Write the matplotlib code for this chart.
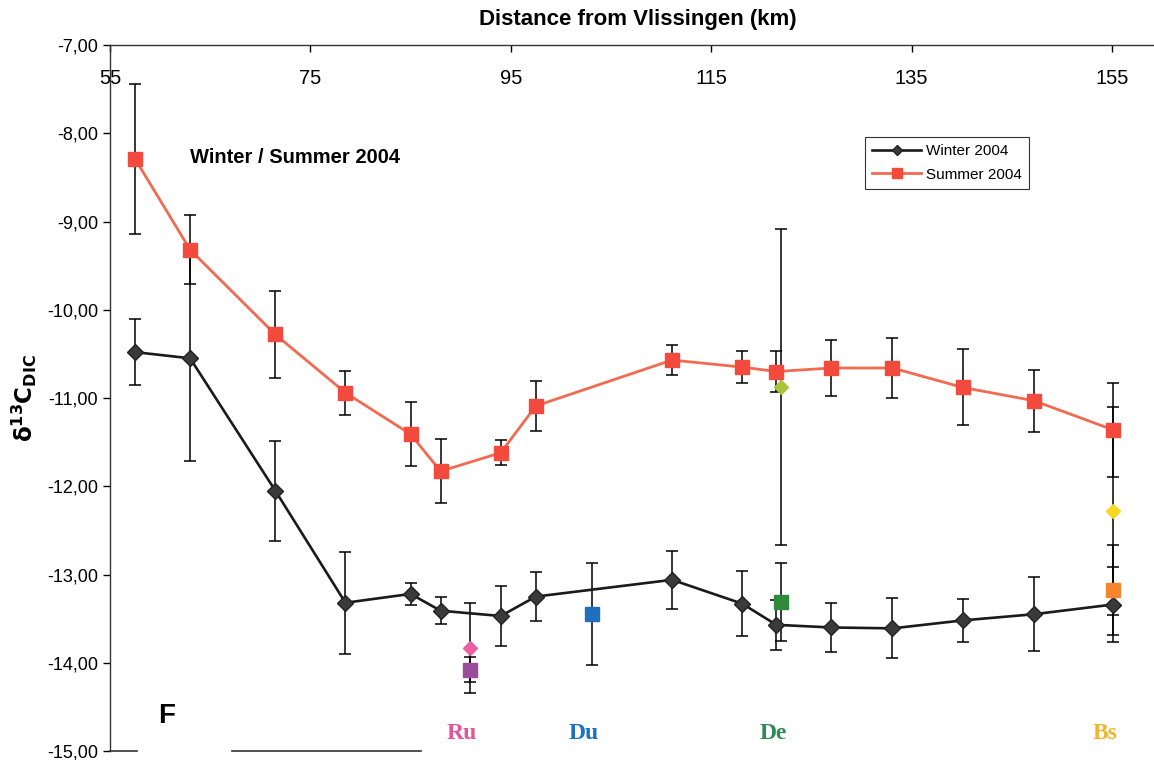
import matplotlib
matplotlib.use("Agg")
import matplotlib.pyplot as plt
from matplotlib.ticker import FuncFormatter

plt.rcParams['font.family'] = ['Liberation Sans', 'DejaVu Sans']

# Distance from Vlissingen (km) of the estuary stations
km = [57.5, 63.0, 71.5, 78.5, 85.0, 88.0, 94.0, 97.5, 111.1, 118.1,
      121.5, 127.0, 133.1, 140.1, 147.2, 155.1]

winter = [-10.48, -10.55, -12.05, -13.32, -13.22, -13.41, -13.47, -13.25,
          -13.06, -13.33, -13.57, -13.60, -13.61, -13.52, -13.45, -13.34]
winter_err = [0.37, 1.16, 0.565, 0.58, 0.12, 0.15, 0.34, 0.28,
              0.33, 0.37, 0.28, 0.28, 0.34, 0.245, 0.42, 0.42]

summer = [-8.29, -9.32, -10.28, -10.94, -11.41, -11.83, -11.62, -11.09,
          -10.57, -10.65, -10.70, -10.66, -10.66, -10.88, -11.03, -11.36]
summer_err = [0.85, 0.39, 0.49, 0.25, 0.36, 0.36, 0.14, 0.28,
              0.17, 0.18, 0.23, 0.32, 0.34, 0.43, 0.35, 0.53]

# Tributaries / discharge points
sites = ['Ru', 'Du', 'De', 'Bs']
site_km = [90.9, 103.1, 122.0, 155.1]
site_colors = ['#e4559c', '#1b72c2', '#2e8a56', '#f2b52a']

diamond_km = [90.9, 122.0, 155.1]
diamond_val = [-13.83, -10.87, -12.28]
diamond_err = [0.51, 1.79, 1.18]
diamond_colors = ['#e8609f', '#a9c43c', '#f7d81e']

square_km = [90.9, 103.1, 122.0, 155.1]
square_val = [-14.08, -13.45, -13.31, -13.18]
square_err = [0.14, 0.58, 0.44, 0.51]
square_colors = ['#9a4d9c', '#1f6fbf', '#2f8a3c', '#f5852e']

fig = plt.figure(figsize=(11.54, 7.6), dpi=100)
ax = fig.add_axes([0.0953, 0.0118, 0.9047, 0.9290])

eb = dict(ecolor='black', elinewidth=1.1, capsize=4.3, capthick=1.1, zorder=2)

ax.errorbar(km, winter, yerr=winter_err, fmt='none', **eb)
ax.errorbar(km, summer, yerr=summer_err, fmt='none', **eb)
for x, y, e in zip(diamond_km, diamond_val, diamond_err):
    ax.errorbar(x, y, yerr=e, fmt='none', **eb)
for x, y, e in zip(square_km, square_val, square_err):
    ax.errorbar(x, y, yerr=e, fmt='none', **eb)

ax.plot(km, winter, color='#1a1a1a', lw=1.9, marker='D', ms=8,
        mfc='#3a3a3a', mec='#222222', label='Winter 2004', zorder=3)
ax.plot(km, summer, color='#f26a50', lw=2.0, marker='s', ms=10.5,
        mfc='#f24a3c', mec='#f24a3c', label='Summer 2004', zorder=3)

for x, y, c in zip(diamond_km, diamond_val, diamond_colors):
    ax.plot(x, y, marker='D', ms=7.5, color=c, zorder=4)
for x, y, c in zip(square_km, square_val, square_colors):
    ax.plot(x, y, marker='s', ms=10, color=c, zorder=4)

for name, x, c in zip(sites, site_km, site_colors):
    ax.text(x - 0.8, -14.8, name, color=c, fontsize=17, fontweight='bold',
            family='Liberation Serif', ha='center', va='center')

ax.set_xlim(55, 159.2)
ax.set_ylim(-15, -7)
ax.set_xticks([55, 75, 95, 115, 135, 155])
ax.set_yticks([-15, -14, -13, -12, -11, -10, -9, -8, -7])
ax.yaxis.set_major_formatter(FuncFormatter(lambda v, p: f"{v:.2f}".replace('.', ',')))

ax.xaxis.tick_top()
ax.tick_params(axis='x', direction='in', length=5, width=1, pad=-31,
               labelsize=14.5)
ax.tick_params(axis='y', direction='out', length=5, width=1, labelsize=13)

ax.spines['right'].set_visible(False)
ax.spines['bottom'].set_visible(False)
for s in ['top', 'left']:
    ax.spines[s].set_linewidth(1.0)
    ax.spines[s].set_color('#333333')
ax.axhline(-15, xmin=0, xmax=0.026, color='#333333', lw=1.2, clip_on=False)
ax.axhline(-15, xmin=0.117, xmax=0.298, color='#333333', lw=1.2, clip_on=False)

fig.text(0.553, 0.975, 'Distance from Vlissingen (km)', fontsize=16,
         fontweight='bold', ha='center', va='center')
ax.set_ylabel(r'$\mathbf{\delta}^{\mathbf{13}}\mathbf{C}_{\mathbf{DIC}}$',
              fontsize=16.5, labelpad=6)

ax.text(63.0, -8.28, 'Winter / Summer 2004', fontsize=14.5, fontweight='bold',
        va='center', ha='left')
ax.text(59.8, -14.6, 'F', fontsize=20, fontweight='bold', va='center')

leg = ax.legend(loc='upper left', bbox_to_anchor=(0.723, 0.870),
                borderaxespad=0, fontsize=11, frameon=True, fancybox=False,
                edgecolor='black', handlelength=3.2, markerscale=0.7,
                handletextpad=0.3, borderpad=0.5, labelspacing=0.6)
leg.get_frame().set_linewidth(0.8)

fig.savefig('out.png', dpi=100)
